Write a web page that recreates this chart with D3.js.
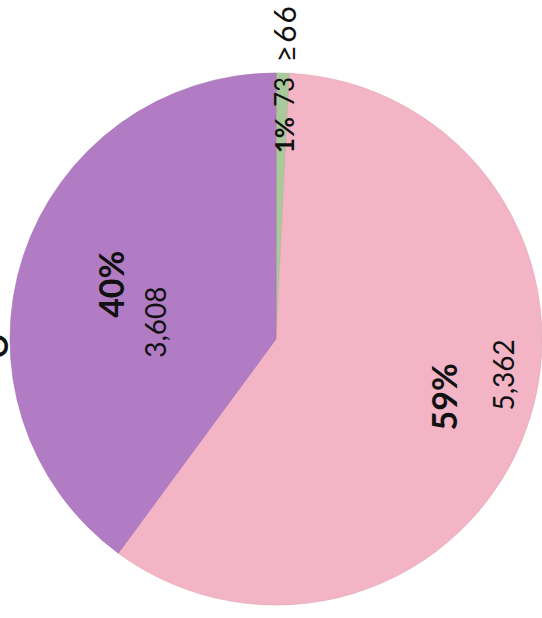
<!DOCTYPE html>
<html>
<head>
<meta charset="utf-8">
<script src="https://cdn.jsdelivr.net/npm/d3@7/dist/d3.min.js"></script>
<style>
  html, body { margin: 0; padding: 0; background: #ffffff; }
  svg { display: block; }
  text { font-family: Lato, "Open Sans", "DejaVu Sans", sans-serif; fill: #111; }
</style>
</head>
<body>
<svg id="chart" width="542" height="618"></svg>
<script>
// ---- data ----
const categories    = ["≥66", "group B", "group A"];
const values        = [73, 5362, 3608];
const percentLabels = ["1%", "59%", "40%"];
const valueLabels   = ["73", "5,362", "3,608"];
const colors        = ["#a9c99b", "#f3b5c6", "#b27cc4"];

// ---- layout ----
const W = 542, H = 618;
const cx = 276, cy = 339, R = 266;

const svg = d3.select("#chart");
svg.append("rect").attr("width", W).attr("height", H).attr("fill", "#fff");

const data = categories.map((c, i) => ({ cat: c, value: values[i], pct: percentLabels[i], val: valueLabels[i], color: colors[i], i }));

// the whole chart is turned a quarter turn counter‑clockwise
const g = svg.append("g").attr("transform", `translate(${cx},${cy}) rotate(-90)`);

const pie = d3.pie().value(d => d.value).sort(null)
  .startAngle(Math.PI / 2).endAngle(Math.PI / 2 + 2 * Math.PI);
const arcs = pie(data);
const arc = d3.arc().innerRadius(0).outerRadius(R);

g.selectAll("path.slice").data(arcs).join("path")
  .attr("class", "slice")
  .attr("d", arc)
  .attr("fill", d => d.data.color)
  .attr("stroke", d => d3.color(d.data.color).darker(0.25))
  .attr("stroke-width", 0.6);

// label anchors: centroid at a per-slice radius, then per-line offsets
const labelLayout = [
  { k: 224, single: true, off: [0, 2], outer: 306 },
  { k: 202, pctOff: [10, -23], valOff: [32, 37] },
  { k: 150, pctOff: [8, -23], valOff: [-30, 21] }
];

arcs.forEach((d, i) => {
  const L = labelLayout[i];
  const c = d3.arc().innerRadius(L.k).outerRadius(L.k).centroid(d);
  if (L.single) {
    const t = g.append("text")
      .attr("x", c[0] + L.off[0]).attr("y", c[1] + L.off[1])
      .attr("text-anchor", "middle").attr("dominant-baseline", "central")
      .attr("font-size", 26);
    t.append("tspan").attr("font-weight", 700).text(d.data.pct);
    t.append("tspan").attr("dx", 10).attr("font-weight", 400).text(d.data.val);
    const o = d3.arc().innerRadius(L.outer).outerRadius(L.outer).centroid(d);
    g.append("text")
      .attr("x", o[0]).attr("y", o[1])
      .attr("text-anchor", "middle").attr("dominant-baseline", "central")
      .attr("font-size", 30).attr("letter-spacing", 2)
      .text(d.data.cat);
  } else {
    g.append("text")
      .attr("x", c[0] + L.pctOff[0]).attr("y", c[1] + L.pctOff[1])
      .attr("text-anchor", "middle").attr("dominant-baseline", "central")
      .attr("font-size", 34).attr("font-weight", 700)
      .text(d.data.pct);
    g.append("text")
      .attr("x", c[0] + L.valOff[0]).attr("y", c[1] + L.valOff[1])
      .attr("text-anchor", "middle").attr("dominant-baseline", "central")
      .attr("font-size", 28).attr("font-weight", 400)
      .text(d.data.val);
  }
});

// partly cut-off character at the left edge (as in the reference)
svg.append("text")
  .attr("transform", "translate(-4,346) rotate(-90)")
  .attr("text-anchor", "middle").attr("dominant-baseline", "central")
  .attr("font-size", 30).attr("font-weight", 700)
  .text("O");
</script>
</body>
</html>
